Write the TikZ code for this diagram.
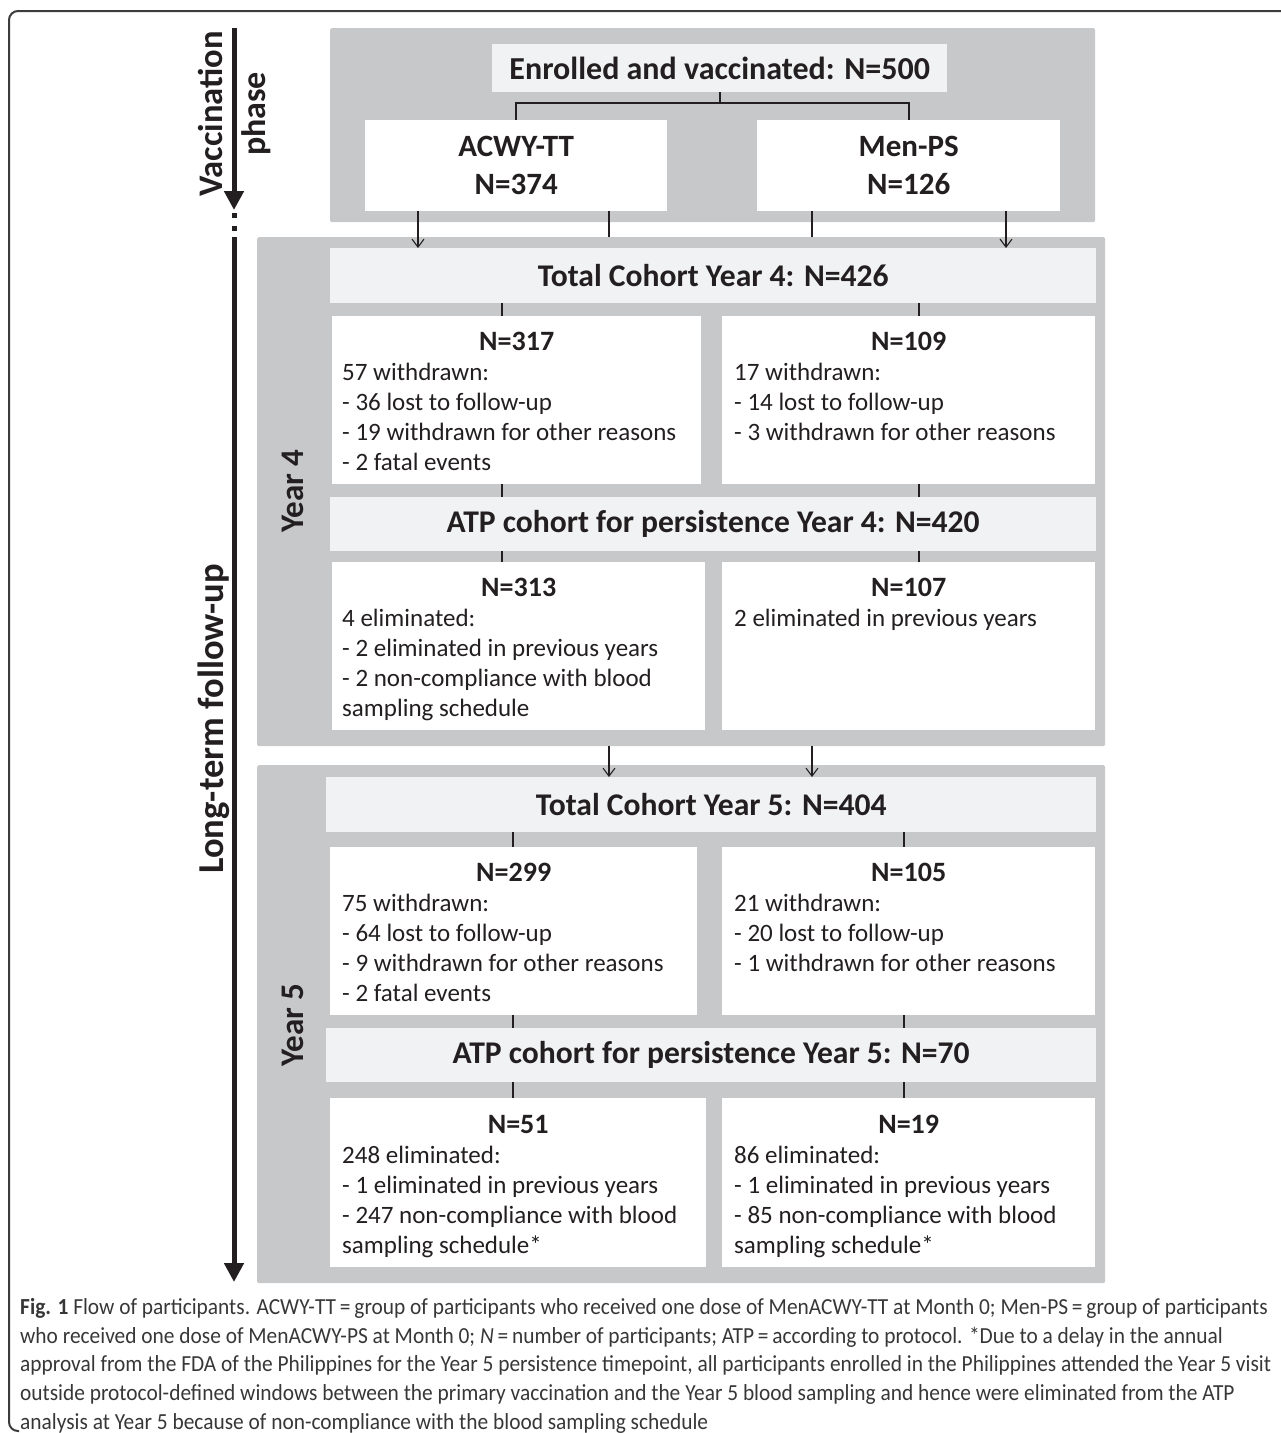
\documentclass[tikz,border=0pt]{standalone}
\usepackage{fontspec}
\setmainfont{Carlito}
\newfontfamily\capfont[FakeStretch=0.93]{Carlito}
\usetikzlibrary{arrows.meta,calc}
\definecolor{panelgrey}{RGB}{199,200,202}
\definecolor{lightbox}{RGB}{241,242,243}
\definecolor{ink}{RGB}{35,31,32}
\definecolor{capink}{RGB}{55,55,55}
\definecolor{framegrey}{RGB}{60,60,60}
\begin{document}
\begin{tikzpicture}[x=1pt,y=-1pt,
 panel/.style={fill=panelgrey,inner sep=0pt,anchor=north west,rounded corners=1.5pt},
 lbox/.style={fill=lightbox,inner sep=0pt,anchor=north west},
 wbox/.style={fill=white,inner sep=0pt,anchor=north west},
 ttl/.style={font=\fontsize{31.6}{36}\selectfont\bfseries,text=ink,inner sep=0pt},
 hdr/.style={font=\fontsize{28}{32}\selectfont\bfseries,text=ink,inner sep=0pt},
 body/.style={font=\fontsize{25}{30}\selectfont,text=ink,inner sep=0pt,align=left,anchor=north west},
 tick/.style={draw=ink,line width=2pt},
 conn/.style={draw=ink,line width=1.1pt},
 arr/.style={conn,-{Straight Barb[length=8pt,width=12pt]}},
 side/.style={font=\fontsize{34}{40}\selectfont\bfseries,text=ink,rotate=90,inner sep=0pt,anchor=base},
 bigarrow/.style={draw=ink,line width=5pt},
]
\useasboundingbox (0,0) rectangle (1281,1433);
% outer frame
\draw[framegrey,line width=2pt,rounded corners=9pt] (1285,11) -- (9,11) -- (9,1431) -- (19,1431);

% ---------- vaccination phase ----------
\node[panel,minimum width=765pt,minimum height=194pt] (p1) at (330,28) {};
\node[lbox,minimum width=455pt,minimum height=48pt] (enr) at (492,44) {};
\node[ttl,font=\fontsize{32}{36}\selectfont\bfseries] (tenr) at (enr.center) {Enrolled and vaccinated: N=500};
\node[wbox,minimum width=302pt,minimum height=91pt] (acwy) at (365,120) {};
\node[wbox,minimum width=303pt,minimum height=91pt] (menps) at (757,120) {};
\node[ttl,align=center,font=\fontsize{31}{38}\selectfont\bfseries] (tacwy) at (acwy.center) {ACWY-TT\\N=374};
\node[ttl,align=center,font=\fontsize{31}{38}\selectfont\bfseries] (tmenps) at (menps.center) {Men-PS\\N=126};
\draw[tick] (enr.south) -- ++(0,11) coordinate (bj);
\draw[tick] (acwy.north) |- (bj) -| (menps.north);

% ---------- year 4 ----------
\node[panel,minimum width=848pt,minimum height=509pt] (p4) at (257,237) {};
\node[lbox,minimum width=766pt,minimum height=55pt] (tc4) at (330,248) {};
\node[ttl] (ttc4) at (tc4.center) {Total Cohort Year 4: N=426};
\node[wbox,minimum width=369pt,minimum height=168pt] (b317) at (332,316) {};
\node[wbox,minimum width=373pt,minimum height=168pt] (b109) at (722,316) {};
\node[hdr] (h317) at ([yshift=-25pt]b317.north) {N=317};
\node[body] (t317) at ([shift={(10,47)}]b317.north west) {57 withdrawn:\\- 36 lost to follow-up\\- 19 withdrawn for other reasons\\- 2 fatal events};
\node[hdr] (h109) at ([yshift=-25pt]b109.north) {N=109};
\node[body] (t109) at ([shift={(12,47)}]b109.north west) {17 withdrawn:\\- 14 lost to follow-up\\- 3 withdrawn for other reasons};
\node[lbox,minimum width=766pt,minimum height=54pt] (atp4) at (330,497) {};
\node[ttl] (tatp4) at (atp4.center) {ATP cohort for persistence Year 4: N=420};
\node[wbox,minimum width=373pt,minimum height=168pt] (b313) at (332,562) {};
\node[wbox,minimum width=373pt,minimum height=168pt] (b107) at (722,562) {};
\node[hdr] (h313) at ([yshift=-25pt]b313.north) {N=313};
\node[body] (t313) at ([shift={(10,47)}]b313.north west) {4 eliminated:\\- 2 eliminated in previous years\\- 2 non-compliance with blood\\sampling schedule};
\node[hdr] (h107) at ([yshift=-25pt]b107.north) {N=107};
\node[body] (t107) at ([shift={(12,47)}]b107.north west) {2 eliminated in previous years};

% ---------- year 5 ----------
\node[panel,minimum width=848pt,minimum height=518pt] (p5) at (257,765) {};
\node[lbox,minimum width=770pt,minimum height=55pt] (tc5) at (326,777) {};
\node[ttl] (ttc5) at (tc5.center) {Total Cohort Year 5: N=404};
\node[wbox,minimum width=367pt,minimum height=168pt] (b299) at (330,847) {};
\node[wbox,minimum width=373pt,minimum height=168pt] (b105) at (722,847) {};
\node[hdr] (h299) at ([yshift=-25pt]b299.north) {N=299};
\node[body] (t299) at ([shift={(12,47)}]b299.north west) {75 withdrawn:\\- 64 lost to follow-up\\- 9 withdrawn for other reasons\\- 2 fatal events};
\node[hdr] (h105) at ([yshift=-25pt]b105.north) {N=105};
\node[body] (t105) at ([shift={(12,47)}]b105.north west) {21 withdrawn:\\- 20 lost to follow-up\\- 1 withdrawn for other reasons};
\node[lbox,minimum width=770pt,minimum height=54pt] (atp5) at (326,1028) {};
\node[ttl] (tatp5) at (atp5.center) {ATP cohort for persistence Year 5: N=70};
\node[wbox,minimum width=376pt,minimum height=169pt] (b51) at (330,1098) {};
\node[wbox,minimum width=373pt,minimum height=169pt] (b19) at (722,1098) {};
\node[hdr] (h51) at ([yshift=-26pt]b51.north) {N=51};
\node[body] (t51) at ([shift={(12,48)}]b51.north west) {248 eliminated:\\- 1 eliminated in previous years\\- 247 non-compliance with blood\\sampling schedule*};
\node[hdr] (h19) at ([yshift=-26pt]b19.north) {N=19};
\node[body] (t19) at ([shift={(12,48)}]b19.north west) {86 eliminated:\\- 1 eliminated in previous years\\- 85 non-compliance with blood\\sampling schedule*};

% ---------- connectors ----------
\draw[arr] (acwy.south -| 418,0) -- (tc4.north -| 418,0);
\draw[conn] (acwy.south -| 609,0) -- (p4.north -| 609,0);
\draw[conn] (menps.south -| 812,0) -- (p4.north -| 812,0);
\draw[arr] (menps.south -| 1006,0) -- (tc4.north -| 1006,0);
\draw[tick] (tc4.south -| 502,0) -- (b317.north -| 502,0);
\draw[tick] (tc4.south -| 919,0) -- (b109.north -| 919,0);
\draw[tick] (b317.south -| 502,0) -- (atp4.north -| 502,0);
\draw[tick] (b109.south -| 919,0) -- (atp4.north -| 919,0);
\draw[tick] (atp4.south -| 502,0) -- (b313.north -| 502,0);
\draw[tick] (atp4.south -| 919,0) -- (b107.north -| 919,0);
\draw[arr] (p4.south -| 609,0) -- (tc5.north -| 609,0);
\draw[arr] (p4.south -| 812,0) -- (tc5.north -| 812,0);
\draw[tick] (tc5.south -| 513,0) -- (b299.north -| 513,0);
\draw[tick] (tc5.south -| 904,0) -- (b105.north -| 904,0);
\draw[tick] (b299.south -| 513,0) -- (atp5.north -| 513,0);
\draw[tick] (b105.south -| 904,0) -- (atp5.north -| 904,0);
\draw[tick] (atp5.south -| 513,0) -- (b51.north -| 513,0);
\draw[tick] (atp5.south -| 904,0) -- (b19.north -| 904,0);

% ---------- timeline ----------
\coordinate (va) at (234,28);
\coordinate (vb) at (234,210);
\coordinate (la) at (234,237);
\coordinate (lb) at (234,1282);
\draw[bigarrow,-{Triangle[length=19pt,width=19pt]}] (va) -- (vb);
\draw[bigarrow] (234,213) -- (234,218);
\draw[bigarrow] (234,226) -- (234,231);
\draw[bigarrow,-{Triangle[length=19pt,width=19pt]}] (la) -- (lb);
\node[side,font=\fontsize{34.5}{40}\selectfont\bfseries] (lvac) at (222,114) {Vaccination};
\node[side] (lphase) at (265,114) {phase};
\node[side,font=\fontsize{36.5}{40}\selectfont\bfseries] (llt) at (223,719) {Long-term follow-up};
\node[side,font=\fontsize{33}{40}\selectfont\bfseries] (ly4) at (303,491) {Year 4};
\node[side,font=\fontsize{33}{40}\selectfont\bfseries] (ly5) at (303,1025) {Year 5};

% ---------- caption ----------
\node[anchor=north west,align=left,inner sep=0pt,text=capink,font=\capfont\fontsize{23}{28.8}\selectfont] (cap) at (20,1298) {%
{\bfseries Fig. 1} Flow of participants. ACWY-TT\,=\,group of participants who received one dose of MenACWY-TT at Month 0; Men-PS\,=\,group of participants\\
who received one dose of MenACWY-PS at Month 0; \emph{N}\,=\,number of participants; ATP\,=\,according to protocol. *Due to a delay in the annual\\
approval from the FDA of the Philippines for the Year 5 persistence timepoint, all participants enrolled in the Philippines attended the Year 5 visit\\
outside protocol-defined windows between the primary vaccination and the Year 5 blood sampling and hence were eliminated from the ATP\\
analysis at Year 5 because of non-compliance with the blood sampling schedule};
\end{tikzpicture}
\end{document}
